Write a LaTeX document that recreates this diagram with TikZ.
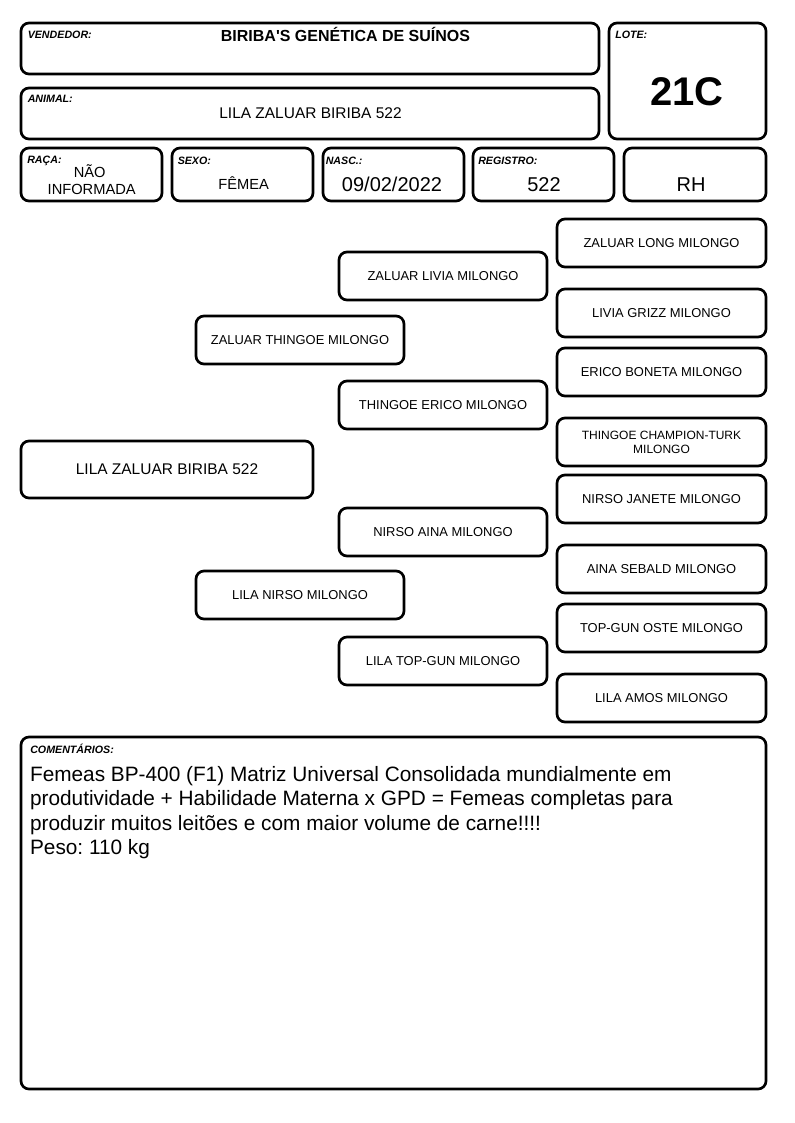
\documentclass[tikz,border=0pt]{standalone}
\usepackage{fontspec}
\setmainfont{Liberation Sans}
\usetikzlibrary{fit}
\frenchspacing

\begin{document}
\begin{tikzpicture}[
    x=0.75pt, y=-0.75pt,
    box/.style={draw, line width=2pt, rounded corners=6pt, inner sep=0pt},
    lbl/.style={anchor=base west, inner sep=0pt, font=\fontsize{8}{9}\selectfont\bfseries\itshape},
    val/.style={anchor=base, inner sep=0pt, font=\fontsize{15}{17}\selectfont},
    pedtxt/.style={align=center, inner sep=0pt, font=\fontsize{9.7}{11}\selectfont},
    ped/.style={box, label={[pedtxt]center:#1}}
]
\useasboundingbox[fill=white] (0,0) rectangle (794,1123);

% Header boxes
\node[box, fit={(21,23) (599,74)}]   (vend) {};
\node[box, fit={(21,88) (599,139)}]  (anim) {};
\node[box, fit={(609,23) (766,139)}] (lote) {};
\node[box, fit={(21,148) (162,201)}]  (raca) {};
\node[box, fit={(172,148) (313,201)}] (sexo) {};
\node[box, fit={(323,148) (464,201)}] (nasc) {};
\node[box, fit={(473,148) (614,201)}] (reg)  {};
\node[box, fit={(624,148) (766,201)}] (rh)   {};

% Field labels
\node[lbl] (vendlbl) at (27.5,39)  {VENDEDOR:};
\node[lbl] (animlbl) at (27.5,103) {ANIMAL:};
\node[lbl] (lotelbl) at (615,38.5) {LOTE:};
\node[lbl] (racalbl) at (27,163.5) {RAÇA:};
\node[lbl] (sexolbl) at (177.5,165) {SEXO:};
\node[lbl] (nasclbl) at (325.5,165) {NASC.:};
\node[lbl] (reglbl)  at (478,165)  {REGISTRO:};

% Field values
\node[val, font=\fontsize{12}{14}\selectfont\bfseries] (vendname) at (345.5,42)
    {BIRIBA\textquotesingle S GENÉTICA DE SUÍNOS};
\node[val, font=\fontsize{11.6}{14}\selectfont] (animname) at (310.5,119)
    {LILA ZALUAR BIRIBA 522};
\node[val, font=\fontsize{30}{34}\selectfont\bfseries] (lotenum) at (687,105.5) {21C};
\node[val, font=\fontsize{11}{13}\selectfont] (raca1) at (89.7,178) {NÃO};
\node[val, font=\fontsize{11}{13}\selectfont] (raca2) at (91.7,195) {INFORMADA};
\node[val, font=\fontsize{11}{13}\selectfont] (sexoval) at (243.7,190) {FÊMEA};
\node[val] (nascval) at (392,191.5) {09/02/2022};
\node[val] (regval)  at (544,192)   {522};
\node[val] (rhval)   at (691,192)   {RH};

% Pedigree: animal
\node[box, fit={(21,441) (313,498)},
      label={[pedtxt, font=\fontsize{11.6}{14}\selectfont]center:LILA ZALUAR BIRIBA 522}] (a) {};

% Parents
\node[ped={ZALUAR THINGOE MILONGO}, fit={(196,316) (404,364)}] (s) {};
\node[ped={LILA NIRSO MILONGO}, fit={(196,571) (404,619)}] (d) {};

% Grandparents
\node[ped={ZALUAR LIVIA MILONGO}, fit={(339,252) (547,300)}] (ss) {};
\node[ped={THINGOE ERICO MILONGO}, fit={(339,381) (547,429)}] (sd) {};
\node[ped={NIRSO AINA MILONGO}, fit={(339,508) (547,556)}] (ds) {};
\node[ped={LILA TOP-GUN MILONGO}, fit={(339,637) (547,685)}] (dd) {};

% Great-grandparents
\node[ped={ZALUAR LONG MILONGO}, fit={(557,219) (766,267)}] (sss) {};
\node[ped={LIVIA GRIZZ MILONGO}, fit={(557,289) (766,337)}] (ssd) {};
\node[ped={ERICO BONETA MILONGO}, fit={(557,348) (766,396)}] (sds) {};
\node[box, fit={(557,418) (766,466)},
      label={[pedtxt, font=\fontsize{9}{10.5}\selectfont]center:THINGOE CHAMPION-TURK\\MILONGO}] (sdd) {};
\node[ped={NIRSO JANETE MILONGO}, fit={(557,475) (766,523)}] (dss) {};
\node[ped={AINA SEBALD MILONGO}, fit={(557,545) (766,593)}] (dsd) {};
\node[ped={TOP-GUN OSTE MILONGO}, fit={(557,604) (766,652)}] (dds) {};
\node[ped={LILA AMOS MILONGO}, fit={(557,674) (766,722)}] (ddd) {};

% Comments
\node[box, fit={(21,737) (766,1089)}] (com) {};
\node[lbl] (comlbl) at (30,753) {COMENTÁRIOS:};
\node[anchor=base west, inner sep=0pt, align=left,
      font=\fontsize{15.6}{18.3}\selectfont\frenchspacing] (comtxt) at (29.8,854.5)
    {Femeas BP-400 (F1) Matriz Universal Consolidada mundialmente em\\
     produtividade + Habilidade Materna x GPD = Femeas completas para\\
     produzir muitos leitões e com maior volume de carne!!!!\\
     Peso: 110 kg};
\end{tikzpicture}
\end{document}
